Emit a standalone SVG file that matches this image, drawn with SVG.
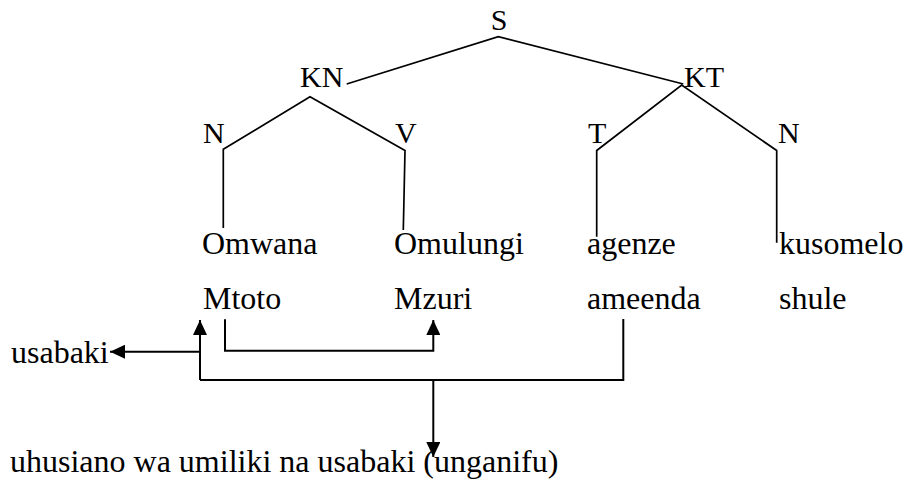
<svg xmlns="http://www.w3.org/2000/svg" width="907" height="481" viewBox="0 0 907 481">
  <style>
    text { font-family: 'Liberation Serif', 'Times New Roman', Tinos, 'DejaVu Serif', serif; fill: #000; }
    .lbl { font-size: 30px; }
    .word { font-size: 32px; }
    .tree { fill: none; stroke: #000; stroke-width: 1.7; stroke-linejoin: miter; }
    .link { fill: none; stroke: #000; stroke-width: 2; }
  </style>
  <defs>
    <marker id="head" markerUnits="userSpaceOnUse" markerWidth="15" markerHeight="14" viewBox="0 0 15 14" refX="15" refY="7" orient="auto">
      <path d="M0,0 L15,7 L0,14 Z" fill="#000"/>
    </marker>
  </defs>

  <g font-family="'Liberation Serif', 'Times New Roman', Tinos, 'DejaVu Serif', serif">
    <!-- tree nodes -->
    <g id="node-S"><text class="lbl" x="499" y="30" text-anchor="middle">S</text></g>
    <g id="node-KN"><text class="lbl" x="300" y="87">KN</text></g>
    <g id="node-KT"><text class="lbl" x="684" y="87">KT</text></g>
    <g id="node-N1"><text class="lbl" x="203" y="143">N</text></g>
    <g id="node-V"><text class="lbl" x="395" y="143">V</text></g>
    <g id="node-T"><text class="lbl" x="588" y="143">T</text></g>
    <g id="node-N2"><text class="lbl" x="778" y="143">N</text></g>

    <!-- words -->
    <g id="word-omwana"><text class="word" x="202" y="253.5">Omwana</text></g>
    <g id="word-omulungi"><text class="word" x="394" y="253.5">Omulungi</text></g>
    <g id="word-agenze"><text class="word" x="587" y="253.5">agenze</text></g>
    <g id="word-kusomelo"><text class="word" x="779" y="253.5">kusomelo</text></g>
    <g id="word-mtoto"><text class="word" x="203" y="308.5">Mtoto</text></g>
    <g id="word-mzuri"><text class="word" x="394" y="308.5">Mzuri</text></g>
    <g id="word-ameenda"><text class="word" x="587" y="308.5">ameenda</text></g>
    <g id="word-shule"><text class="word" x="779" y="308.5">shule</text></g>
    <g id="label-usabaki"><text class="word" x="11" y="363">usabaki</text></g>
    <g id="label-uhusiano"><text class="word" x="10" y="472">uhusiano wa umiliki na usabaki (unganifu)</text></g>
  </g>

  <!-- connectors -->
  <g id="connectors">
    <polyline class="tree" points="346.7,84 498.3,36.7 683.3,84"/>
    <polyline class="tree" points="223.3,228 223.3,149.3 310,96.7 405,150.5 403.3,230"/>
    <polyline class="tree" points="596.7,236.7 596.7,150.5 681.7,85 776.7,150.5 776.7,242.7"/>

    <polyline class="link" points="225,319.3 225,350.7 433.3,350.7 433.3,320" marker-end="url(#head)"/>
    <line class="link" x1="200" y1="380" x2="200" y2="320" marker-end="url(#head)"/>
    <polyline class="link" points="200,380 623.3,380 623.3,319"/>
    <line class="link" x1="200" y1="351.7" x2="110" y2="351.7" marker-end="url(#head)"/>
    <line class="link" x1="433.3" y1="380" x2="433.3" y2="457" marker-end="url(#head)"/>
  </g>
</svg>
